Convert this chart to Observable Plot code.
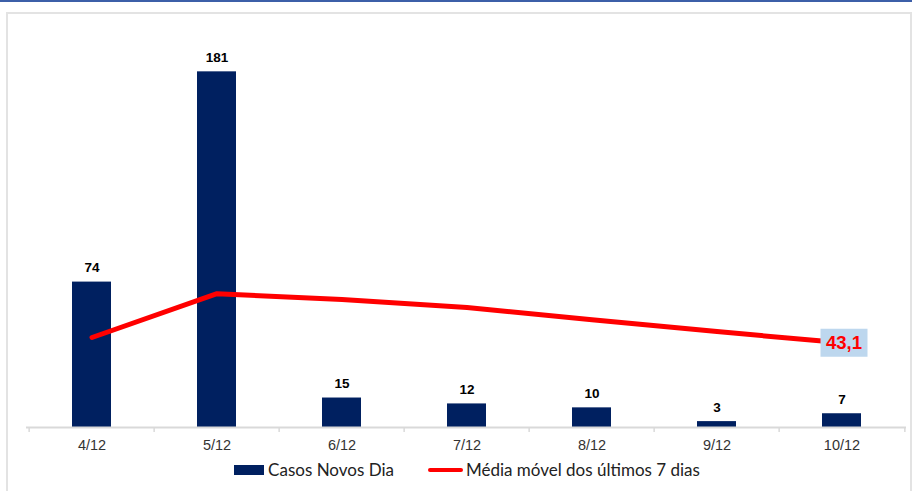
<!DOCTYPE html>
<html>
<head>
<meta charset="utf-8">
<script src="https://cdn.jsdelivr.net/npm/d3@7"></script>
<script src="https://cdn.jsdelivr.net/npm/@observablehq/plot@0.6"></script>
<style>
  html, body { margin: 0; padding: 0; background: #fff; }
  #frame { position: relative; width: 912px; height: 491px; overflow: hidden; background: #fff; }
  #stripe { position: absolute; left: 0; top: 0; width: 912px; height: 2px; background: #3c5fa8; }
  #box { position: absolute; left: 6px; top: 12px; width: 902px; height: 500px; border-left: 2px solid #e3e3e3; border-top: 2px solid #e3e3e3; border-right: 2px solid #e3e3e3; }
  #chart { position: absolute; left: 0; top: 0; }
  #legend { position: absolute; left: 0; top: 459px; width: 912px; box-sizing: border-box; padding-left: 22px; display: flex; justify-content: center; align-items: center;
            font-family: Lato, "Open Sans", sans-serif; font-size: 17px; color: #222; }
  .item { display: flex; align-items: center; margin: 0 17px; }
  .sw-bar { width: 30px; height: 10px; background: #002060; margin-right: 4px; }
  .sw-line { width: 35px; height: 4px; background: #ff0000; border-radius: 2px; margin-right: 3px; }
</style>
</head>
<body>
<div id="frame">
  <div id="stripe"></div>
  <div id="box"></div>
  <div id="chart"></div>
  <div id="legend">
    <div class="item"><div class="sw-bar"></div><span id="lg1"></span></div>
    <div class="item"><div class="sw-line"></div><span id="lg2"></span></div>
  </div>
</div>
<script>
const dates = ["4/12", "5/12", "6/12", "7/12", "8/12", "9/12", "10/12"];
const casos = [74, 181, 15, 12, 10, 3, 7];
const media = [45.8, 68.1, 65.1, 61.1, 54.8, 48.8, 43.1];
const seriesNames = ["Casos Novos Dia", "Média móvel dos últimos 7 dias"];
const lastLabel = "43,1";

document.getElementById("lg1").textContent = seriesNames[0];
document.getElementById("lg2").textContent = seriesNames[1];

const bars = dates.map((d, i) => ({date: d, value: casos[i]}));
const avg = dates.map((d, i) => ({date: d, value: media[i]}));
const lastAvg = [avg[avg.length - 1]];

const W = 912, H = 460;
const mL = 26, mR = 6;
const step = (W - mL - mR) / dates.length;

const labelBox = {
  draw(context) { context.rect(-23.5, -14, 47, 28); }
};

const chart = Plot.plot({
  width: W,
  height: H,
  marginLeft: mL,
  marginRight: mR,
  marginTop: 34,
  marginBottom: H - 427,
  style: {fontFamily: "Arial, 'Liberation Sans', sans-serif", background: "transparent"},
  x: {domain: dates, paddingInner: 0.69, paddingOuter: 0.345, label: null},
  y: {domain: [0, 200], axis: null},
  marks: [
    Plot.barY(bars, {x: "date", y: "value", fill: "#002060"}),
    Plot.ruleY([0], {stroke: "#d9d9d9", strokeWidth: 2}),
    Plot.ruleX(dates, {x: d => d, dx: -step / 2, y1: 0, y2: 0, insetBottom: -5, stroke: "#d9d9d9", strokeWidth: 1.5}),
    Plot.ruleX([dates[dates.length - 1]], {x: d => d, dx: step / 2, y1: 0, y2: 0, insetBottom: -5, stroke: "#d9d9d9", strokeWidth: 1.5}),
    Plot.axisX({tickSize: 0, tickPadding: 12, fontSize: 14.5, fill: "#333", label: null}),
    Plot.text(bars, {x: "date", y: "value", text: d => String(d.value), dy: -10, lineAnchor: "bottom",
      fontSize: 13.5, fontWeight: "bold", fill: "#000"}),
    Plot.line(avg, {x: "date", y: "value", stroke: "#ff0000", strokeWidth: 5, strokeLinecap: "round", strokeLinejoin: "round"}),
    Plot.dot(lastAvg, {x: "date", y: "value", symbol: labelBox, r: 10, fill: "#bdd7ee", stroke: "none", dx: 2}),
    Plot.text(lastAvg, {x: "date", y: "value", text: () => lastLabel, fontSize: 18.5, fontWeight: "bold", fill: "#ff0000", dx: 2})
  ]
});
document.getElementById("chart").appendChild(chart);
</script>
</body>
</html>
